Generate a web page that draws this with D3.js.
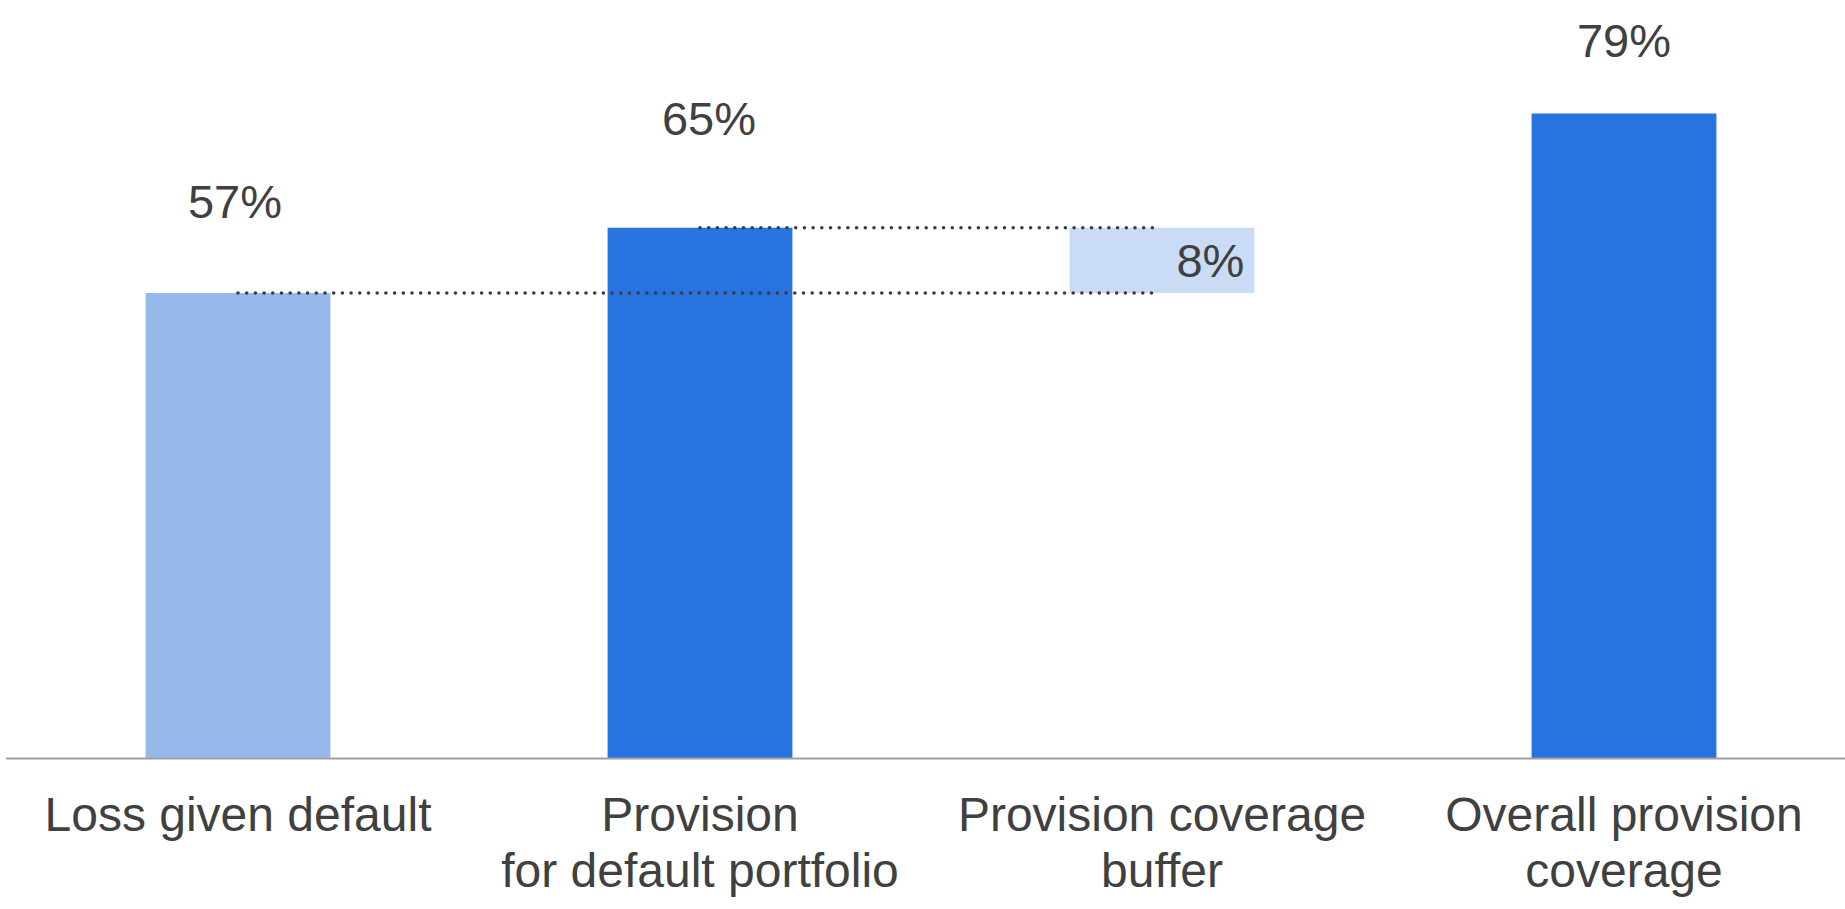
<!DOCTYPE html>
<html>
<head>
<meta charset="utf-8">
<script src="https://cdn.jsdelivr.net/npm/d3@7"></script>
<style>
  body { margin: 0; background: #fff; }
  text { font-family: "Liberation Sans", Arial, sans-serif; fill: #404040; }
</style>
</head>
<body>
<div id="chart"></div>
<script>
// categories (each label split into lines)
var categories = ["Loss given default", "Provision for default portfolio", "Provision coverage buffer", "Overall provision coverage"];
var labelLines = [["Loss given default"], ["Provision", "for default portfolio"], ["Provision coverage", "buffer"], ["Overall provision", "coverage"]];

// values in percent; the buffer floats from base to base + value
var values = [57, 65, 8, 79];
var bases = [0, 0, 57, 0];
var valueLabels = ["57%", "65%", "8%", "79%"];

var colors = ["#96b9ec", "#2774e0", "#c9dbf5", "#2774e0"];
// how far each value label sits above its bar top, and a small sideways nudge
var labelLift = [75, 93, 0, 57];
var labelNudge = [-3, 9, 0, 0];

var width = 1845, height = 909;

var svg = d3.select("#chart").append("svg")
    .attr("width", width)
    .attr("height", height);

var x = d3.scaleBand()
    .domain(categories)
    .range([7, 1855])
    .paddingInner(0.6)
    .paddingOuter(0.3);

var y = d3.scaleLinear()
    .domain([0, 79])
    .range([758, 113.5]);

// bars
svg.selectAll(".bar")
    .data(categories)
    .enter()
    .append("rect")
    .attr("class", "bar")
    .attr("x", function (d) { return x(d); })
    .attr("width", x.bandwidth())
    .attr("y", function (d, i) { return y(bases[i] + values[i]); })
    .attr("height", function (d, i) { return y(bases[i]) - y(bases[i] + values[i]); })
    .attr("fill", function (d, i) { return colors[i]; });

// dotted connector lines from bar 1 and bar 2 to the buffer
var connectors = [
    { from: 0, level: values[0] },
    { from: 1, level: values[1] }
];
svg.selectAll(".conn")
    .data(connectors)
    .enter()
    .append("line")
    .attr("class", "conn")
    .attr("x1", function (d) { return x(categories[d.from]) + x.bandwidth() / 2; })
    .attr("x2", x(categories[2]) + x.bandwidth() / 2 - 4)
    .attr("y1", function (d) { return y(d.level); })
    .attr("y2", function (d) { return y(d.level); })
    .attr("stroke", "#3c3c3c")
    .attr("stroke-width", 3.6)
    .attr("stroke-linecap", "round")
    .attr("stroke-dasharray", "0,8.7");

// x axis line
svg.append("line")
    .attr("x1", 6).attr("x2", width)
    .attr("y1", 758.5).attr("y2", 758.5)
    .attr("stroke", "#a0a0a0")
    .attr("stroke-width", 2);

// value labels
svg.selectAll(".val")
    .data(categories)
    .enter()
    .append("text")
    .attr("class", "val")
    .attr("font-size", 47)
    .attr("text-anchor", function (d, i) { return i == 2 ? "end" : "middle"; })
    .attr("x", function (d, i) {
        if (i == 2) return x(d) + x.bandwidth() - 10;
        return x(d) + x.bandwidth() / 2 + labelNudge[i];
    })
    .attr("y", function (d, i) {
        if (i == 2) return (y(bases[i]) + y(bases[i] + values[i])) / 2 + 17;
        return y(bases[i] + values[i]) - labelLift[i];
    })
    .text(function (d, i) { return valueLabels[i]; });

// category labels
var cat = svg.selectAll(".cat")
    .data(categories)
    .enter()
    .append("text")
    .attr("class", "cat")
    .attr("font-size", 48)
    .attr("text-anchor", "middle")
    .attr("x", function (d) { return x(d) + x.bandwidth() / 2; })
    .attr("y", 831);

cat.selectAll("tspan")
    .data(function (d, i) { return labelLines[i]; })
    .enter()
    .append("tspan")
    .attr("x", function () { return d3.select(this.parentNode).attr("x"); })
    .attr("dy", function (d, j) { return j == 0 ? 0 : 56; })
    .text(function (d) { return d; });
</script>
</body>
</html>
